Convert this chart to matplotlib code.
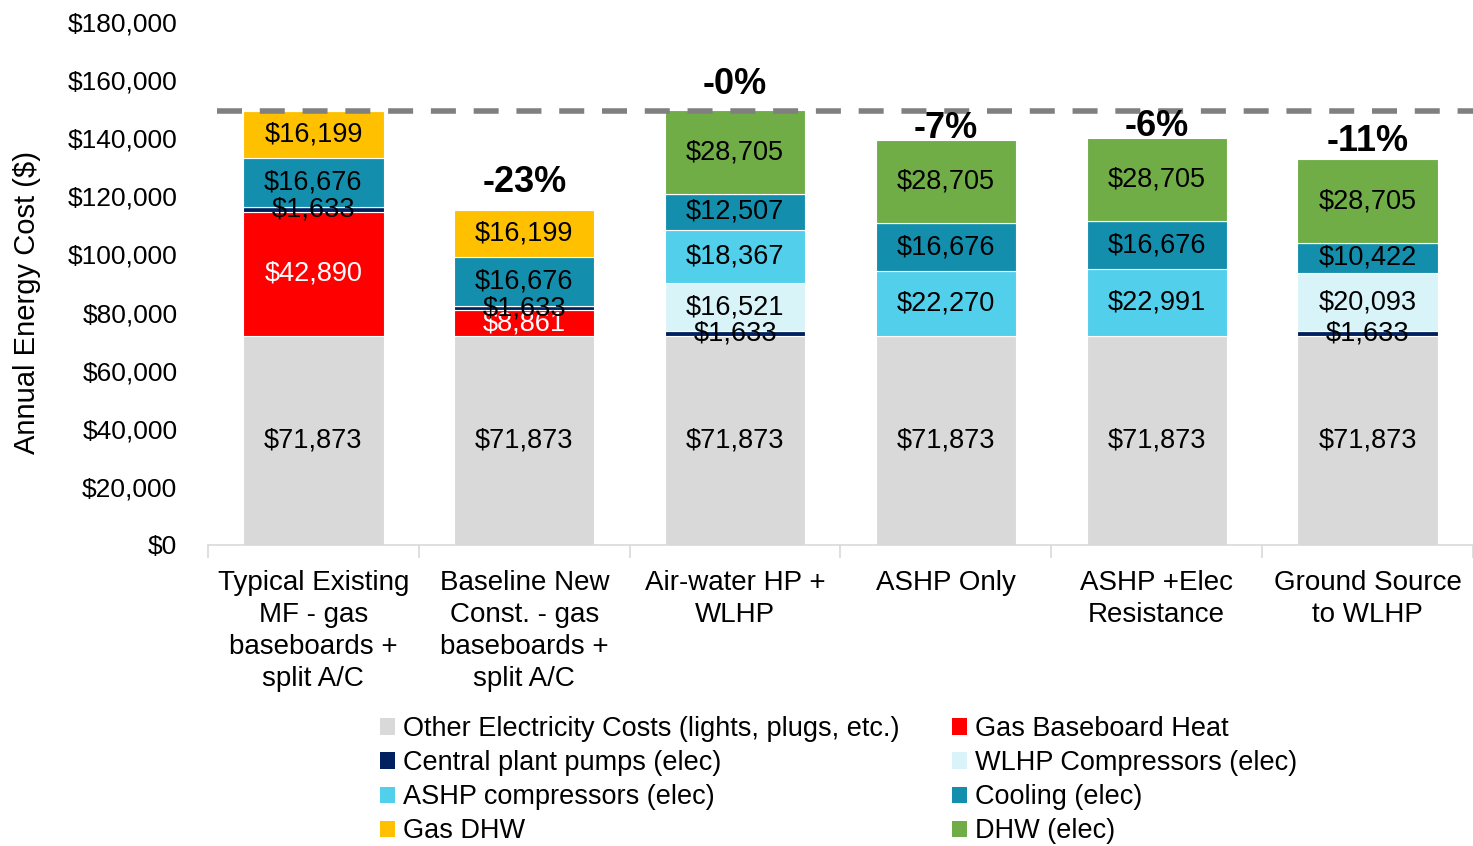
"""
Annual energy cost by HVAC / DHW system option - stacked bars
"""
import numpy as np
import matplotlib
matplotlib.use('Agg')
import matplotlib.pyplot as plt
from matplotlib.patches import Patch
from matplotlib.ticker import FuncFormatter, FixedLocator

plt.rcParams['font.family'] = ['Liberation Sans', 'DejaVu Sans']

categories = ['Typical Existing\nMF - gas\nbaseboards +\nsplit A/C',
              'Baseline New\nConst. - gas\nbaseboards +\nsplit A/C',
              'Air-water HP +\nWLHP',
              'ASHP Only',
              'ASHP +Elec\nResistance',
              'Ground Source\nto WLHP']

# stacked from the bottom up
other_elec = [71873, 71873, 71873, 71873, 71873, 71873]
gas_baseboard = [42890, 8861, 0, 0, 0, 0]
pumps = [1633, 1633, 1633, 0, 0, 1633]
wlhp_comp = [0, 0, 16521, 0, 0, 20093]
ashp_comp = [0, 0, 18367, 22270, 22991, 0]
cooling = [16676, 16676, 12507, 16676, 16676, 10422]
gas_dhw = [16199, 16199, 0, 0, 0, 0]
dhw_elec = [0, 0, 28705, 28705, 28705, 28705]

pct_labels = ['', '-23%', '-0%', '-7%', '-6%', '-11%']

series = [
    ('Other Electricity Costs (lights, plugs, etc.)', other_elec, '#D9D9D9', 'black'),
    ('Gas Baseboard Heat', gas_baseboard, '#FF0000', 'white'),
    ('Central plant pumps (elec)', pumps, '#002060', 'black'),
    ('WLHP Compressors (elec)', wlhp_comp, '#D9F4F8', 'black'),
    ('ASHP compressors (elec)', ashp_comp, '#51CFEB', 'black'),
    ('Cooling (elec)', cooling, '#138FAD', 'black'),
    ('Gas DHW', gas_dhw, '#FFC000', 'black'),
    ('DHW (elec)', dhw_elec, '#70AD47', 'black'),
]

fig = plt.figure(figsize=(14.73, 8.46), dpi=100)
ax = fig.add_axes([208 / 1473, 1 - 545 / 846, 1265 / 1473, 523 / 846])

x = np.arange(len(categories))
bottom = np.zeros(len(categories))
for name, vals, color, txtcolor in series:
    vals = np.array(vals, dtype=float)
    ax.bar(x, vals, width=0.665, bottom=bottom, color=color,
           edgecolor='white', linewidth=0.8, label=name, zorder=2)
    for xi, v, b in zip(x, vals, bottom):
        if v > 0:
            ax.text(xi, b + v / 2, f'${v:,.0f}', ha='center', va='center',
                    fontsize=19.5, color=txtcolor, zorder=4)
    bottom += vals

totals = bottom.copy()

# baseline reference line (existing building total)
ax.axhline(totals[0], xmin=0.007, xmax=1, color='#808080', lw=4,
           dashes=(4.5, 3.2), zorder=3)

# percent change labels, nudged by hand like the original
pct_offsets = [0, 13, 12, 1.5, 1, 6]
for xi, lab, t, off in zip(x, pct_labels, totals, pct_offsets):
    if lab:
        ax.annotate(lab, (xi, t), xytext=(0, off), textcoords='offset points',
                    ha='center', va='baseline', fontsize=26, fontweight='bold',
                    zorder=5)

ax.set_xlim(-0.5, 5.5)
ax.set_ylim(0, 180000)
ax.yaxis.set_major_locator(FixedLocator(np.arange(0, 180001, 20000)))
ax.yaxis.set_major_formatter(FuncFormatter(lambda v, p: f'${v:,.0f}'))
ax.tick_params(axis='y', length=0, labelsize=19, pad=22)

ax.set_xticks(x)
ax.set_xticklabels(categories, fontsize=20, linespacing=1.3, va='top')
ax.set_xticks(np.arange(-0.5, 6, 1), minor=True)
ax.tick_params(axis='x', which='major', length=0, pad=18)
ax.tick_params(axis='x', which='minor', length=9, color='#D9D9D9', width=1.2)

for s in ['top', 'right', 'left']:
    ax.spines[s].set_visible(False)
ax.spines['bottom'].set_color('#D9D9D9')
ax.spines['bottom'].set_linewidth(1.2)

fig.text(27 / 1473, 1 - 303 / 846, 'Annual Energy Cost ($)', rotation=90,
         ha='center', va='center', fontsize=21)

# legend: two columns, filled column-wise
order = [0, 2, 4, 6, 1, 3, 5, 7]
handles = [Patch(facecolor=series[i][2], edgecolor='none') for i in order]
labels = [series[i][0] for i in order]
fig.legend(handles, labels, ncol=2, loc='upper left',
           bbox_to_anchor=(380 / 1473, 1 - 716 / 846), frameon=False,
           fontsize=19.5, handlelength=0.55, handleheight=0.55, handletextpad=0.3,
           labelspacing=0.3, columnspacing=1.95, borderpad=0, borderaxespad=0)

fig.savefig('out.png', dpi=100)
